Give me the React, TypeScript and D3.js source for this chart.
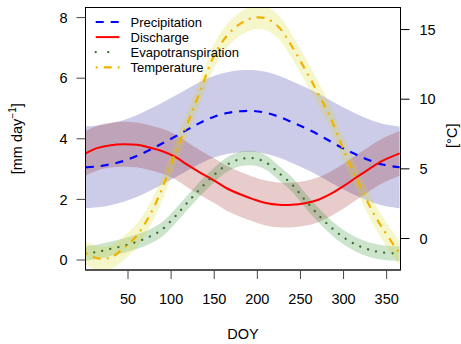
import React from "react";
import * as d3 from "d3";

const doy = [1, 15, 30, 45, 60, 75, 90, 105, 120, 135, 150, 165, 180, 195, 210, 225, 240, 255, 270, 285, 300, 315, 330, 345, 365];
const precipitation = [3.06, 3.09, 3.16, 3.27, 3.43, 3.63, 3.85, 4.08, 4.32, 4.55, 4.73, 4.85, 4.91, 4.92, 4.86, 4.73, 4.55, 4.36, 4.15, 3.91, 3.68, 3.47, 3.29, 3.15, 3.06];
const discharge = [3.52, 3.7, 3.79, 3.82, 3.8, 3.71, 3.59, 3.4, 3.12, 2.86, 2.62, 2.36, 2.17, 2.01, 1.88, 1.82, 1.82, 1.87, 1.98, 2.18, 2.44, 2.73, 3.01, 3.27, 3.52];
const evapotranspiration = [0.22, 0.27, 0.37, 0.47, 0.6, 0.77, 1.02, 1.45, 1.93, 2.39, 2.81, 3.15, 3.33, 3.36, 3.22, 2.87, 2.5, 1.99, 1.51, 1.09, 0.75, 0.5, 0.34, 0.25, 0.21];
const temperature = [-1.06, -1.43, -1.35, -0.69, 0.19, 1.65, 3.64, 6.17, 8.41, 10.8, 13.15, 14.57, 15.41, 15.84, 15.8, 15.16, 13.8, 12.18, 10.48, 8.65, 6.37, 4.34, 2.37, 0.75, -1.06];

// half-widths of the shaded uncertainty bands
const precipSpread = 1.35;
const dischargeSpread = 0.74;
const etSpread = 0.24;
const tempSpread = 0.85;

const xTicks = [50, 100, 150, 200, 250, 300, 350];
const yLeftTicks = [0, 2, 4, 6, 8];
const yRightTicks = [0, 5, 10, 15];
const legendLabels = ["Precipitation", "Discharge", "Evapotranspiration", "Temperature"];

const W = 461, H = 344;
const L = 85.5, R = 400.5, T = 7.5, B = 270;
const FONT = "'Liberation Sans', Arial, Helvetica, sans-serif";

export default function App() {
  const x = d3.scaleLinear().domain([0, 366]).range([84.9, 84.9 + 0.8622 * 366]);
  const yL = d3.scaleLinear().domain([0, 8]).range([260, 260 - 30.3 * 8]);
  const yR = d3.scaleLinear().domain([0, 15]).range([238.5, 238.5 - 13.93 * 15]);

  const curve = d3.curveCatmullRom.alpha(0.5);
  const mk = (vals: number[], y: d3.ScaleLinear<number, number>) =>
    d3.line<number>().x((_, i) => x(doy[i])).y((v) => y(v)).curve(curve)(vals) || "";
  const band = (vals: number[], s: number, y: d3.ScaleLinear<number, number>) =>
    d3
      .area<number>()
      .x((_, i) => x(doy[i]))
      .y0((v) => y(v - s))
      .y1((v) => y(v + s))
      .curve(curve)(vals) || "";

  const styles = [
    { color: "#0000ff", dash: "8,7", width: 2.2, legendDash: "8,7", cap: "butt" },
    { color: "#ff0000", dash: "none", width: 2, legendDash: "none", cap: "butt" },
    { color: "#3d6b35", dash: "0.01,8.3", width: 2.3, legendDash: "0.01,12.5", cap: "round" },
    { color: "#f2b100", dash: "2,6,8,6", width: 2.2, legendDash: "2,6,8,6", cap: "butt" },
  ];

  return (
    <svg width={W} height={H} style={{ position: "absolute", left: 0, top: 0, background: "#fff" }} fontFamily={FONT}>
      <defs>
        <clipPath id="plotclip">
          <rect x={L} y={T} width={R - L} height={B - T} />
        </clipPath>
      </defs>
      <g clipPath="url(#plotclip)">
        <path d={band(precipitation, precipSpread, yL)} fill="rgb(0,0,139)" fillOpacity={0.2} />
        <path d={band(discharge, dischargeSpread, yL)} fill="rgb(139,0,0)" fillOpacity={0.2} />
        <path d={band(evapotranspiration, etSpread, yL)} fill="rgb(0,120,0)" fillOpacity={0.2} />
        <path d={band(temperature, tempSpread, yR)} fill="rgb(215,215,20)" fillOpacity={0.22} />
        <path d={mk(precipitation, yL)} fill="none" stroke={styles[0].color} strokeWidth={styles[0].width} strokeDasharray={styles[0].dash} />
        <path d={mk(discharge, yL)} fill="none" stroke={styles[1].color} strokeWidth={styles[1].width} />
        <path d={mk(evapotranspiration, yL)} fill="none" stroke={styles[2].color} strokeWidth={styles[2].width} strokeDasharray={styles[2].dash} strokeLinecap="round" />
        <path d={mk(temperature, yR)} fill="none" stroke={styles[3].color} strokeWidth={styles[3].width} strokeDasharray={styles[3].dash} />
      </g>
      {/* box */}
      <rect x={L} y={T} width={R - L} height={B - T} fill="none" stroke="#000" strokeWidth={1} />
      <line x1={L} x2={R} y1={B} y2={B} stroke="#444" strokeWidth={1.6} />
      {/* bottom axis */}
      {xTicks.map((t) => (
        <g key={"x" + t}>
          <line x1={x(t)} x2={x(t)} y1={B} y2={B + 9} stroke="#444" strokeWidth={1} />
          <text x={x(t)} y={304} textAnchor="middle" fontSize={14.5} fill="#000">{t}</text>
        </g>
      ))}
      {/* left axis */}
      {yLeftTicks.map((t) => (
        <g key={"yl" + t}>
          <line x1={L - 9} x2={L} y1={yL(t)} y2={yL(t)} stroke="#444" strokeWidth={1} />
          <text x={67.5} y={yL(t) + 5.2} textAnchor="end" fontSize={14.5} fill="#000">{t}</text>
        </g>
      ))}
      {/* right axis */}
      {yRightTicks.map((t) => (
        <g key={"yr" + t}>
          <line x1={R} x2={R + 9} y1={yR(t)} y2={yR(t)} stroke="#000" strokeWidth={1} />
          <text x={419.5} y={yR(t) + 5.2} textAnchor="start" fontSize={14.5} fill="#000">{t}</text>
        </g>
      ))}
      {/* axis titles */}
      <text x={(L + R) / 2} y={339} textAnchor="middle" fontSize={14.5}>DOY</text>
      <text transform={`translate(22,${(T + B) / 2}) rotate(-90)`} textAnchor="middle" fontSize={14.5}>
        [mm day<tspan fontSize={10} dy={-6}>−1</tspan><tspan dy={6}>]</tspan>
      </text>
      <text transform={`translate(457,${(T + B) / 2 - 3}) rotate(-90)`} textAnchor="middle" fontSize={14.5}>[°C]</text>
      {/* legend */}
      {legendLabels.map((lab, i) => {
        const yy = 22 + i * 15.1;
        const s = styles[i];
        return (
          <g key={lab}>
            <line x1={95.7} x2={119.5} y1={yy} y2={yy} stroke={s.color} strokeWidth={s.width} strokeDasharray={s.legendDash} strokeLinecap={s.cap as any} />
            <text x={130.5} y={yy + 4.5} fontSize={13} fill="#000">{lab}</text>
          </g>
        );
      })}
    </svg>
  );
}
